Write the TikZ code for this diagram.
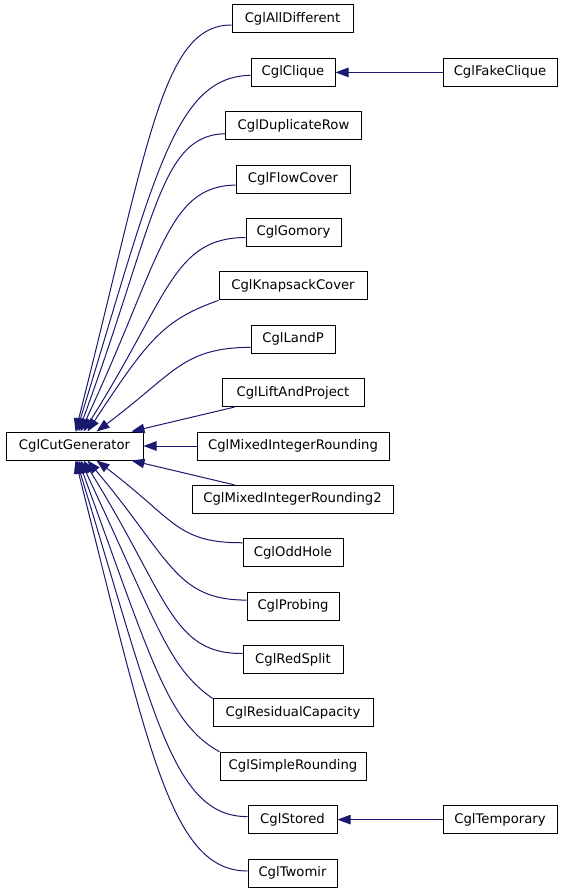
\documentclass[tikz,border=0pt]{standalone}
\usepackage{fontspec}
\setmainfont{DejaVu Sans}
\usetikzlibrary{arrows.meta}
\definecolor{edgeblue}{HTML}{191970}
\begin{document}
\begin{tikzpicture}[x=1pt,y=-1pt,
  box/.style={draw=black, fill=white, line width=1pt, minimum height=28pt, inner sep=0pt,
    text height=10pt, text depth=3pt, font=\fontsize{13.2}{15}\selectfont},
  edge/.style={draw=edgeblue, line width=1pt, -{Triangle[length=13pt,width=9.5pt]}}]
\useasboundingbox (0,0) rectangle (563,893);
% base
\node[box, minimum width=137pt] (cg) at (74.5,446) {CglCutGenerator};
% children
\node[box, minimum width=121pt] (alldiff)  at (292.5,19)    {CglAllDifferent};
\node[box, minimum width=84pt]  (clique)   at (293,72.4)    {CglClique};
\node[box, minimum width=114pt] (fake)     at (500,72.4)    {CglFakeClique};
\node[box, minimum width=136pt] (duprow)   at (293.5,125.75){CglDuplicateRow};
\node[box, minimum width=114pt] (flow)     at (293,179.1)   {CglFlowCover};
\node[box, minimum width=95pt]  (gomory)   at (293.5,232.5) {CglGomory};
\node[box, minimum width=148pt] (knap)     at (293,285.9)   {CglKnapsackCover};
\node[box, minimum width=84pt]  (landp)    at (293,339.25)  {CglLandP};
\node[box, minimum width=142pt] (lift)     at (293,392.6)   {CglLiftAndProject};
\node[box, minimum width=192pt] (mir)      at (293,446)     {CglMixedIntegerRounding};
\node[box, minimum width=201pt] (mirtwo)   at (292.5,499.4) {CglMixedIntegerRounding2};
\node[box, minimum width=100pt] (odd)      at (293,552.75)  {CglOddHole};
\node[box, minimum width=92pt]  (probing)  at (293,606.1)   {CglProbing};
\node[box, minimum width=100pt] (redsplit) at (293,659.5)   {CglRedSplit};
\node[box, minimum width=160pt] (resid)    at (293,712.9)   {CglResidualCapacity};
\node[box, minimum width=146pt] (simple)   at (293,766.25)  {CglSimpleRounding};
\node[box, minimum width=89pt]  (stored)   at (292.5,819.6) {CglStored};
\node[box, minimum width=114pt] (temp)     at (500,819.6)   {CglTemporary};
\node[box, minimum width=89pt]  (twomir)   at (292.5,873)   {CglTwomir};
% upper edges
\draw[edge] ([yshift=-6pt]alldiff.west) .. controls (162,25) and (149,141) .. ([xshift=70pt]cg.north west);
\draw[edge] ([yshift=-3pt]clique.west) .. controls (173,76) and (153,183) .. ([xshift=71pt]cg.north west);
\draw[edge] ([yshift=-8pt]duprow.west) .. controls (159,135) and (155,224) .. ([xshift=73pt]cg.north west);
\draw[edge] ([yshift=-6pt]flow.west) .. controls (166,186) and (161,260) .. ([xshift=75pt]cg.north west);
\draw[edge] ([yshift=-5pt]gomory.west) .. controls (173,238) and (169,296) .. ([xshift=78pt]cg.north west);
\draw[edge] (knap.south west) .. controls (163,320) and (148,340) .. ([xshift=82pt]cg.north west);
\draw[edge] ([yshift=-8pt]landp.west) .. controls (182,348) and (175,373) .. ([xshift=91pt]cg.north west);
\draw[edge] ([xshift=13pt]lift.south west) -- ([xshift=126pt]cg.north west);
\draw[edge] (mir.west) -- (cg.east);
% lower edges
\draw[edge] ([xshift=43pt]mirtwo.north west) -- ([xshift=126pt]cg.south west);
\draw[edge] ([yshift=10pt]odd.west) .. controls (177,543) and (175,520) .. ([xshift=91pt]cg.south west);
\draw[edge] ([yshift=6pt]probing.west) .. controls (175,600) and (170,558) .. ([xshift=82pt]cg.south west);
\draw[edge] ([yshift=6pt]redsplit.west) .. controls (171,654) and (168,596) .. ([xshift=78pt]cg.south west);
\draw[edge] (resid.north west) .. controls (168,667) and (159,628) .. ([xshift=75pt]cg.south west);
\draw[edge] (simple.north west) .. controls (168,723) and (153,665) .. ([xshift=73pt]cg.south west);
\draw[edge] ([yshift=3pt]stored.west) .. controls (172,817) and (153,710) .. ([xshift=71pt]cg.south west);
\draw[edge] ([yshift=2pt]twomir.west) .. controls (171,871) and (149,752) .. ([xshift=70pt]cg.south west);
% second level
\draw[edge] (fake.west) -- (clique.east);
\draw[edge] (temp.west) -- (stored.east);
\end{tikzpicture}
\end{document}
